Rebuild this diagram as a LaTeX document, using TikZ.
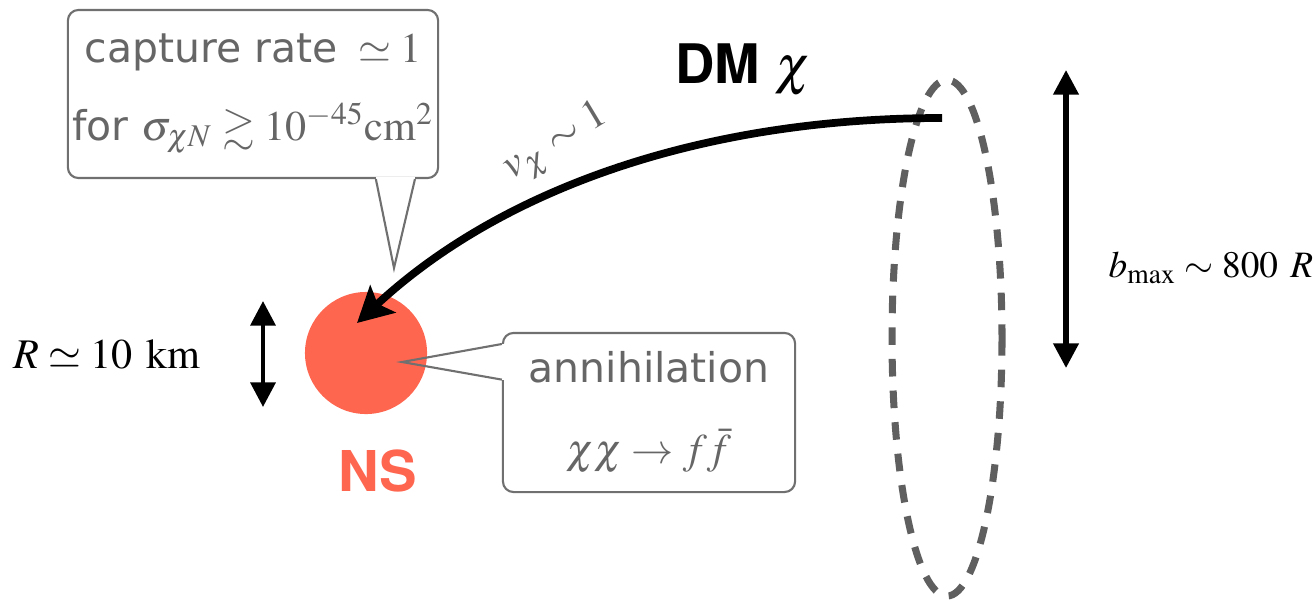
\documentclass[tikz,border=0pt]{standalone}
\usepackage{mathptmx}
\usepackage{amssymb}
\usepackage[no-math]{fontspec}
\setsansfont{TeX Gyre Heros}
\newfontfamily\boxfont{DejaVu Sans}[Scale=0.97]
\usepackage{tikz}
\usetikzlibrary{arrows.meta,positioning,calc}
\definecolor{nsred}{HTML}{FF6650}
\definecolor{txtgray}{HTML}{666666}
\definecolor{linegray}{HTML}{707070}
\definecolor{ringgray}{HTML}{5F5F5F}
\tikzset{
  callout/.style={draw=linegray,line width=0.6pt,rounded corners=3pt,fill=white,align=center,
                  text=txtgray,inner sep=0pt,font=\fontsize{12}{22}\selectfont\boxfont},
  tail/.style={linegray,line width=0.6pt,line join=miter},
  erase/.style={white,line width=1.4pt},
  dmarr/.style={-{Stealth[length=10pt,width=10.5pt,inset=2pt]},line width=2.2pt},
  darr/.style={{Triangle[length=7pt,width=7pt]}-{Triangle[length=7pt,width=7pt]},line width=1.3pt},
  ring/.style={ringgray,line width=2pt,dash pattern=on 5pt off 4pt},
  lbl/.style={font=\fontsize{12}{14}\selectfont}
}

\begin{document}
\begin{tikzpicture}[x=0.01cm,y=-0.01cm]
  \useasboundingbox (0,0) rectangle (1316,603);
  % neutron star
  \node[circle,fill=nsred,minimum size=1.22cm,inner sep=0pt] (star) at (366,353) {};
  \node[font=\sffamily\bfseries\fontsize{16}{18}\selectfont,text=nsred,inner sep=0pt,
        below=0.34cm of star,xshift=0.12cm] (nslbl) {NS};
  % radius of the star
  \coordinate (rtop) at (263,301);
  \coordinate (rbot) at (263,407);
  \coordinate (rmid) at ($(rtop)!0.5!(rbot)$);
  \draw[darr] (rtop) -- (rbot);
  \node[lbl,left=0.5cm of rmid] (rlbl) {$R\simeq 10~\mathrm{km}$};

  % capture box
  \node[callout,minimum width=3.70cm,minimum height=1.68cm] (cap) at (253,94)
    {capture rate\hspace{0.5em}$\simeq 1$\\for $\sigma_{\chi N}\gtrsim 10^{-45}\mathrm{cm}^2$};
  \coordinate (capA) at ($(cap.south west)!0.83!(cap.south east)$);
  \coordinate (capB) at ($(cap.south west)!0.935!(cap.south east)$);
  \coordinate (capTip) at (394,268);
  \draw[erase] (capA) -- (capB);
  \draw[tail] (capA) -- (capTip) -- (capB);

  % annihilation box
  \node[callout,minimum width=2.92cm,minimum height=1.59cm,
        font=\fontsize{12}{23}\selectfont\boxfont] (ann) at (649,412.5)
    {annihilation\\$\chi\chi\rightarrow f\bar{f}$};
  \coordinate (annA) at ($(ann.south west)!0.925!(ann.north west)$);
  \coordinate (annB) at ($(ann.south west)!0.704!(ann.north west)$);
  \coordinate (annTip) at ($(star.center)+(36,9)$);
  \draw[erase] (annA) -- (annB);
  \draw[tail] (annA) -- (annTip) -- (annB);

  % incoming DM
  \draw[ring] (947,338) ellipse [x radius=55,y radius=258];
  \coordinate (dmstart) at (942,118);
  \coordinate (hit) at (357,323);
  \draw[dmarr] (dmstart) .. controls (700,118) and (500,190) .. (hit);
  \node[font=\sffamily\fontsize{15.5}{17}\selectfont] (dmlbl) at (743,70) {\textbf{DM} $\chi$};
  \node[lbl,text=txtgray,rotate=31] (vlbl) at (557,144) {$v_\chi\sim 1$};

  % impact parameter
  \coordinate (bmtop) at (1066,70);
  \coordinate (bmbot) at (1066,368);
  \draw[darr,line width=1.5pt] (bmtop) -- (bmbot);
  \node[font=\fontsize{10.6}{13}\selectfont,anchor=west,inner sep=0pt] (bmlbl) at (1108,268)
    {$b_{\max}\sim 800~R$};
\end{tikzpicture}
\end{document}
